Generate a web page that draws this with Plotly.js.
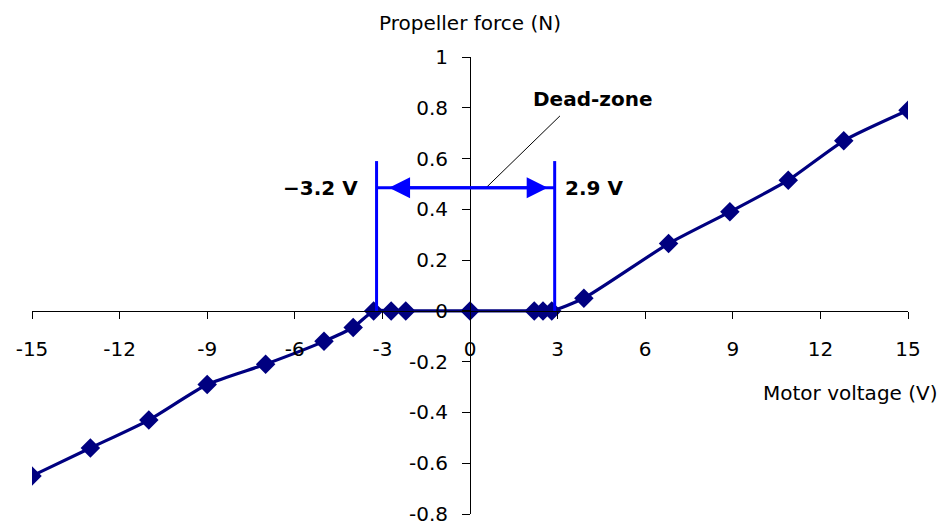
<!DOCTYPE html>
<html>
<head>
<meta charset="utf-8">
<script src="https://cdn.plot.ly/plotly-3.0.1.min.js"></script>
<style>
  html, body { margin: 0; padding: 0; background: #fff; }
  #chart { width: 943px; height: 527px; }
</style>
</head>
<body>
<div id="chart"></div>
<script>
// Measured propeller force against motor voltage
const voltage = [-15, -13, -11, -9, -7, -5, -4, -3.3, -2.7, -2.2, 0, 2.2, 2.5, 2.8, 3.9, 6.8, 8.9, 10.9, 12.8, 15];
const force = [-0.65, -0.54, -0.43, -0.29, -0.21, -0.12, -0.065, 0, 0, 0, 0, 0, 0, 0, 0.05, 0.265, 0.39, 0.515, 0.67, 0.79];

// Dead-zone limits (V)
const deadZone = [-3.2, 2.9];
const deadZoneLabels = ['\u22123.2 V', '2.9 V'];

const xTicks = [-15, -12, -9, -6, -3, 0, 3, 6, 9, 12, 15];
const yTicks = [-0.8, -0.6, -0.4, -0.2, 0, 0.2, 0.4, 0.6, 0.8, 1];

const xRange = [-15, 15];
const yRange = [-0.8, 1];

const navy = '#000080';
const blue = '#0000FF';
const font = 'DejaVu Sans, Arial, sans-serif';

const trace = {
  x: voltage,
  y: force,
  type: 'scatter',
  mode: 'lines+markers',
  line: { color: navy, width: 3.2, shape: 'spline', smoothing: 0.6 },
  marker: { symbol: 'diamond', size: 15, color: navy },
  hoverinfo: 'x+y'
};

const markerTop = 0.59;
const arrowY = 0.485;

const shapes = [
  // vertical dead-zone limits
  { type: 'line', xref: 'x', yref: 'y', x0: deadZone[0], x1: deadZone[0], y0: 0, y1: markerTop,
    line: { color: blue, width: 3 } },
  { type: 'line', xref: 'x', yref: 'y', x0: deadZone[1], x1: deadZone[1], y0: 0, y1: markerTop,
    line: { color: blue, width: 3 } },
  // span between limits
  { type: 'line', xref: 'x', yref: 'y', x0: deadZone[0], x1: deadZone[1], y0: arrowY, y1: arrowY,
    line: { color: blue, width: 3 } },
  // leader line to the dead-zone caption
  { type: 'line', xref: 'x', yref: 'y', x0: 0.55, x1: 3.08, y0: arrowY, y1: 0.768,
    line: { color: '#000', width: 1 } }
];

const annotations = [
  // double-headed span arrow
  { x: deadZone[1], y: arrowY, ax: deadZone[0], ay: arrowY, xref: 'x', yref: 'y', axref: 'x', ayref: 'y',
    text: '', showarrow: true, arrowside: 'end+start', arrowhead: 2, arrowsize: 1.4, arrowwidth: 3,
    arrowcolor: blue, standoff: 7, startstandoff: 11 },
  { x: -3.77, y: arrowY, xref: 'x', yref: 'y', xanchor: 'right', yanchor: 'middle', showarrow: false,
    text: '<b>' + deadZoneLabels[0] + '</b>', font: { family: font, size: 20, color: '#000' } },
  { x: 3.18, y: arrowY, xref: 'x', yref: 'y', xanchor: 'left', yanchor: 'middle', showarrow: false,
    text: '<b>' + deadZoneLabels[1] + '</b>', font: { family: font, size: 20, color: '#000' } },
  { x: 4.2, y: 0.835, xref: 'x', yref: 'y', xanchor: 'center', yanchor: 'middle', showarrow: false,
    text: '<b>Dead-zone</b>', font: { family: font, size: 20, color: '#000' } },
  // axis captions
  { x: 0.5, y: 1, xref: 'paper', yref: 'paper', yshift: 34, xanchor: 'center', yanchor: 'middle', showarrow: false,
    text: 'Propeller force (N)', font: { family: font, size: 20, color: '#000' } },
  { x: 1, y: 0.4444, xref: 'paper', yref: 'paper', xshift: 32, yshift: -82, xanchor: 'right', yanchor: 'middle', showarrow: false,
    text: 'Motor voltage (V)', font: { family: font, size: 20, color: '#000' } }
];

const layout = {
  width: 943,
  height: 527,
  margin: { l: 32, r: 35, t: 57, b: 13 },
  paper_bgcolor: '#fff',
  plot_bgcolor: '#fff',
  showlegend: false,
  font: { family: font, size: 20, color: '#000' },
  xaxis: {
    range: xRange,
    tickmode: 'array',
    tickvals: xTicks,
    ticktext: xTicks.map(String),
    showgrid: false,
    zeroline: false,
    showline: true,
    linecolor: '#000',
    linewidth: 1,
    ticks: 'outside',
    ticklen: 7,
    tickcolor: '#000',
    ticklabelstandoff: 13,
    ticklabeloverflow: 'allow',
    anchor: 'free',
    position: (0 - yRange[0]) / (yRange[1] - yRange[0]),
    tickfont: { family: font, size: 20, color: '#000' },
    fixedrange: true
  },
  yaxis: {
    range: yRange,
    tickmode: 'array',
    tickvals: yTicks,
    ticktext: yTicks.map(v => String(v)),
    showgrid: false,
    zeroline: false,
    showline: true,
    linecolor: '#000',
    linewidth: 1,
    ticks: 'outside',
    ticklen: 8,
    tickcolor: '#000',
    ticklabelstandoff: 10,
    ticklabeloverflow: 'allow',
    anchor: 'free',
    position: (0 - xRange[0]) / (xRange[1] - xRange[0]),
    tickfont: { family: font, size: 20, color: '#000' },
    fixedrange: true
  },
  shapes: shapes,
  annotations: annotations
};

Plotly.newPlot('chart', [trace], layout, { displayModeBar: false, staticPlot: true });
</script>
</body>
</html>
